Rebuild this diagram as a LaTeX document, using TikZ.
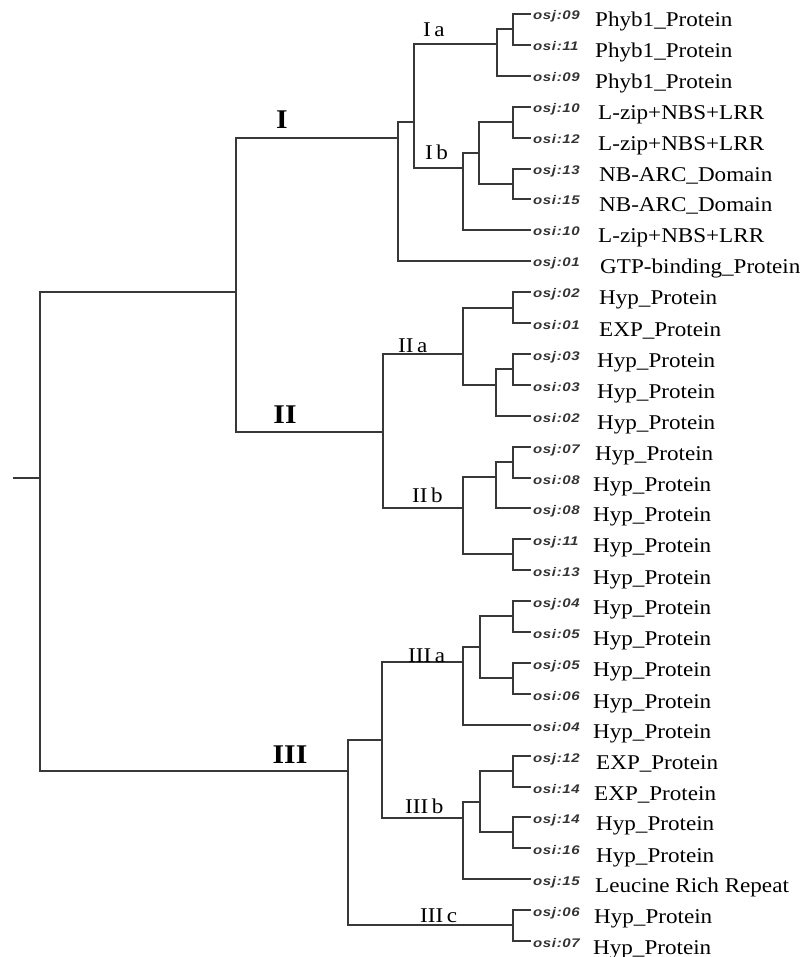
\documentclass[tikz,border=0pt]{standalone}
\usepackage{fontspec}
\setmainfont{Liberation Serif}[FakeStretch=1.1]
\newfontfamily\codefont{Liberation Sans}[LetterSpace=5,FakeStretch=1.2]
\tikzset{
  branch/.style={draw=black!78,line width=1.4pt},
  clade/.style={font=\fontsize{27}{30}\selectfont\bfseries,inner sep=0pt,anchor=base},
  subclade/.style={font=\fontsize{21}{24}\selectfont,inner sep=0pt,anchor=base west},
  code/.style={font=\codefont\fontsize{12.5}{14}\selectfont\bfseries\itshape,text=black!80,inner sep=0pt,anchor=base west},
  protein/.style={font=\fontsize{21}{24}\selectfont,inner sep=0pt,anchor=base west}
}
\begin{document}
\begin{tikzpicture}[x=1pt,y=-1pt]
       \useasboundingbox(0,0)rectangle(809,957);
       % inner nodes of the tree
       \coordinate(Stub)at(13,478);
       \coordinate(Root)at(40,478);
       \coordinate(SplitA)at(236,292);
       \coordinate(CladeI)at(398,138);
       \coordinate(CladeIab)at(414,122);
       \coordinate(CladeIa)at(497,44);
       \coordinate(PairIa)at(513,29);
       \coordinate(CladeIb)at(463,168);
       \coordinate(CladeIbOne)at(479,153);
       \coordinate(PairIbOne)at(513,122);
       \coordinate(PairIbTwo)at(513,184);
       \coordinate(CladeII)at(383,432);
       \coordinate(CladeIIa)at(463,354);
       \coordinate(PairIIaOne)at(513,308);
       \coordinate(CladeIIaTwo)at(496,385);
       \coordinate(PairIIaTwo)at(513,369);
       \coordinate(CladeIIb)at(463,508);
       \coordinate(CladeIIbOne)at(496,477);
       \coordinate(PairIIbOne)at(513,462);
       \coordinate(PairIIbTwo)at(513,554);
       \coordinate(CladeIII)at(348,771);
       \coordinate(CladeIIIab)at(382,740);
       \coordinate(CladeIIIa)at(463,662);
       \coordinate(CladeIIIaOne)at(480,647);
       \coordinate(PairIIIaOne)at(513,616);
       \coordinate(PairIIIaTwo)at(513,678);
       \coordinate(CladeIIIb)at(463,818);
       \coordinate(CladeIIIbOne)at(480,802);
       \coordinate(PairIIIbOne)at(513,771);
       \coordinate(PairIIIbTwo)at(513,832);
       \coordinate(CladeIIIc)at(513,925);
       % leaves
       \coordinate(Leaf1)at(531,14);\node[code](Code1)at(533,20){osj:09};\node[protein](Name1)at(595,27){Phyb1\_Protein};
       \coordinate(Leaf2)at(531,45);\node[code](Code2)at(533,51){osi:11};\node[protein](Name2)at(595,58){Phyb1\_Protein};
       \coordinate(Leaf3)at(531,76);\node[code](Code3)at(533,82){osi:09};\node[protein](Name3)at(595,89){Phyb1\_Protein};
       \coordinate(Leaf4)at(531,107);\node[code](Code4)at(533,113){osj:10};\node[protein](Name4)at(598,120){L-zip+NBS+LRR};
       \coordinate(Leaf5)at(531,138);\node[code](Code5)at(533,144){osi:12};\node[protein](Name5)at(598,151){L-zip+NBS+LRR};
       \coordinate(Leaf6)at(531,169);\node[code](Code6)at(533,175){osj:13};\node[protein](Name6)at(599,182){NB-ARC\_Domain};
       \coordinate(Leaf7)at(531,199);\node[code](Code7)at(533,205){osi:15};\node[protein](Name7)at(599,212){NB-ARC\_Domain};
       \coordinate(Leaf8)at(531,230);\node[code](Code8)at(533,236){osi:10};\node[protein](Name8)at(598,243){L-zip+NBS+LRR};
       \coordinate(Leaf9)at(531,261);\node[code](Code9)at(533,267){osj:01};\node[protein](Name9)at(600,274){GTP-binding\_Protein};
       \coordinate(Leaf10)at(531,292);\node[code](Code10)at(533,298){osj:02};\node[protein](Name10)at(599,305){Hyp\_Protein};
       \coordinate(Leaf11)at(531,323);\node[code](Code11)at(533,329){osi:01};\node[protein](Name11)at(599,336){EXP\_Protein};
       \coordinate(Leaf12)at(531,354);\node[code](Code12)at(533,360){osj:03};\node[protein](Name12)at(597,367){Hyp\_Protein};
       \coordinate(Leaf13)at(531,385);\node[code](Code13)at(533,391){osi:03};\node[protein](Name13)at(597,398){Hyp\_Protein};
       \coordinate(Leaf14)at(531,416);\node[code](Code14)at(533,422){osi:02};\node[protein](Name14)at(597,429){Hyp\_Protein};
       \coordinate(Leaf15)at(531,447);\node[code](Code15)at(533,453){osj:07};\node[protein](Name15)at(595,460){Hyp\_Protein};
       \coordinate(Leaf16)at(531,478);\node[code](Code16)at(533,484){osi:08};\node[protein](Name16)at(593,491){Hyp\_Protein};
       \coordinate(Leaf17)at(531,508);\node[code](Code17)at(533,514){osj:08};\node[protein](Name17)at(593,521){Hyp\_Protein};
       \coordinate(Leaf18)at(531,539);\node[code](Code18)at(533,545){osj:11};\node[protein](Name18)at(593,552){Hyp\_Protein};
       \coordinate(Leaf19)at(531,570);\node[code](Code19)at(533,576){osi:13};\node[protein](Name19)at(593,584){Hyp\_Protein};
       \coordinate(Leaf20)at(531,601);\node[code](Code20)at(533,607){osj:04};\node[protein](Name20)at(593,614){Hyp\_Protein};
       \coordinate(Leaf21)at(531,632);\node[code](Code21)at(533,638){osi:05};\node[protein](Name21)at(593,645){Hyp\_Protein};
       \coordinate(Leaf22)at(531,663);\node[code](Code22)at(533,669){osj:05};\node[protein](Name22)at(593,676){Hyp\_Protein};
       \coordinate(Leaf23)at(531,694);\node[code](Code23)at(533,700){osi:06};\node[protein](Name23)at(593,708){Hyp\_Protein};
       \coordinate(Leaf24)at(531,725);\node[code](Code24)at(533,731){osi:04};\node[protein](Name24)at(593,738){Hyp\_Protein};
       \coordinate(Leaf25)at(531,756);\node[code](Code25)at(533,762){osj:12};\node[protein](Name25)at(596,769){EXP\_Protein};
       \coordinate(Leaf26)at(531,787);\node[code](Code26)at(533,793){osi:14};\node[protein](Name26)at(594,800){EXP\_Protein};
       \coordinate(Leaf27)at(531,817);\node[code](Code27)at(533,823){osj:14};\node[protein](Name27)at(596,830){Hyp\_Protein};
       \coordinate(Leaf28)at(531,848);\node[code](Code28)at(533,854){osi:16};\node[protein](Name28)at(596,862){Hyp\_Protein};
       \coordinate(Leaf29)at(531,879);\node[code](Code29)at(533,885){osj:15};\node[protein](Name29)at(595,892){Leucine Rich Repeat};
       \coordinate(Leaf30)at(531,910);\node[code](Code30)at(533,916){osj:06};\node[protein](Name30)at(594,923){Hyp\_Protein};
       \coordinate(Leaf31)at(531,941);\node[code](Code31)at(533,947){osi:07};\node[protein](Name31)at(593,954){Hyp\_Protein};
       % branches
       \draw[branch](Stub)--(Root);
       \draw[branch](Root)|-(SplitA);
       \draw[branch](Root)|-(CladeIII);
       \draw[branch](SplitA)|-(CladeI);
       \draw[branch](SplitA)|-(CladeII);
       \draw[branch](CladeI)|-(CladeIab);
       \draw[branch](CladeI)|-(Leaf9);
       \draw[branch](CladeIab)|-(CladeIa);
       \draw[branch](CladeIab)|-(CladeIb);
       \draw[branch](CladeIa)|-(PairIa);
       \draw[branch](CladeIa)|-(Leaf3);
       \draw[branch](PairIa)|-(Leaf1);
       \draw[branch](PairIa)|-(Leaf2);
       \draw[branch](CladeIb)|-(CladeIbOne);
       \draw[branch](CladeIb)|-(Leaf8);
       \draw[branch](CladeIbOne)|-(PairIbOne);
       \draw[branch](CladeIbOne)|-(PairIbTwo);
       \draw[branch](PairIbOne)|-(Leaf4);
       \draw[branch](PairIbOne)|-(Leaf5);
       \draw[branch](PairIbTwo)|-(Leaf6);
       \draw[branch](PairIbTwo)|-(Leaf7);
       \draw[branch](CladeII)|-(CladeIIa);
       \draw[branch](CladeII)|-(CladeIIb);
       \draw[branch](CladeIIa)|-(PairIIaOne);
       \draw[branch](CladeIIa)|-(CladeIIaTwo);
       \draw[branch](PairIIaOne)|-(Leaf10);
       \draw[branch](PairIIaOne)|-(Leaf11);
       \draw[branch](CladeIIaTwo)|-(PairIIaTwo);
       \draw[branch](CladeIIaTwo)|-(Leaf14);
       \draw[branch](PairIIaTwo)|-(Leaf12);
       \draw[branch](PairIIaTwo)|-(Leaf13);
       \draw[branch](CladeIIb)|-(CladeIIbOne);
       \draw[branch](CladeIIb)|-(PairIIbTwo);
       \draw[branch](CladeIIbOne)|-(PairIIbOne);
       \draw[branch](CladeIIbOne)|-(Leaf17);
       \draw[branch](PairIIbOne)|-(Leaf15);
       \draw[branch](PairIIbOne)|-(Leaf16);
       \draw[branch](PairIIbTwo)|-(Leaf18);
       \draw[branch](PairIIbTwo)|-(Leaf19);
       \draw[branch](CladeIII)|-(CladeIIIab);
       \draw[branch](CladeIII)|-(CladeIIIc);
       \draw[branch](CladeIIIab)|-(CladeIIIa);
       \draw[branch](CladeIIIab)|-(CladeIIIb);
       \draw[branch](CladeIIIa)|-(CladeIIIaOne);
       \draw[branch](CladeIIIa)|-(Leaf24);
       \draw[branch](CladeIIIaOne)|-(PairIIIaOne);
       \draw[branch](CladeIIIaOne)|-(PairIIIaTwo);
       \draw[branch](PairIIIaOne)|-(Leaf20);
       \draw[branch](PairIIIaOne)|-(Leaf21);
       \draw[branch](PairIIIaTwo)|-(Leaf22);
       \draw[branch](PairIIIaTwo)|-(Leaf23);
       \draw[branch](CladeIIIb)|-(CladeIIIbOne);
       \draw[branch](CladeIIIb)|-(Leaf29);
       \draw[branch](CladeIIIbOne)|-(PairIIIbOne);
       \draw[branch](CladeIIIbOne)|-(PairIIIbTwo);
       \draw[branch](PairIIIbOne)|-(Leaf25);
       \draw[branch](PairIIIbOne)|-(Leaf26);
       \draw[branch](PairIIIbTwo)|-(Leaf27);
       \draw[branch](PairIIIbTwo)|-(Leaf28);
       \draw[branch](CladeIIIc)|-(Leaf30);
       \draw[branch](CladeIIIc)|-(Leaf31);
       % clade labels
       \node[clade](LabelI)at(282,129){I};
       \node[clade](LabelII)at(285,423){II};
       \node[clade](LabelIII)at(290,763){III};
       \node[subclade](LabelIa)at(423,37){I\,a};
       \node[subclade](LabelIb)at(425,160){I\,b};
       \node[subclade](LabelIIa)at(398,352){II\,a};
       \node[subclade](LabelIIb)at(412,502){II\,b};
       \node[subclade](LabelIIIa)at(408,662){III\,a};
       \node[subclade](LabelIIIb)at(405,813){III\,b};
       \node[subclade](LabelIIIc)at(420,922){III\,c};
      \end{tikzpicture}
\end{document}
